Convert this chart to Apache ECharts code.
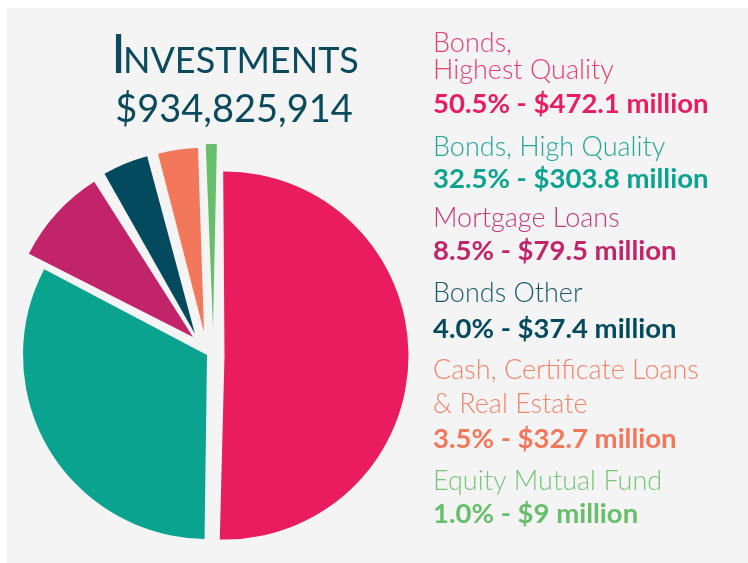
<!DOCTYPE html>
<html>
<head>
<meta charset="utf-8">
<script src="https://cdn.jsdelivr.net/npm/echarts@6/dist/echarts.min.js"></script>
<style>
  html, body { margin: 0; padding: 0; background: #fff; }
  #chart { width: 748px; height: 563px; }
</style>
</head>
<body>
<div id="chart"></div>
<script>
// data
const categories = ['Bonds, Highest Quality', 'Bonds, High Quality', 'Mortgage Loans', 'Bonds Other', 'Cash, Certificate Loans & Real Estate', 'Equity Mutual Fund'];
const nameLines = ['Bonds,\nHighest Quality', 'Bonds, High Quality', 'Mortgage Loans', 'Bonds Other', 'Cash, Certificate Loans\n& Real Estate', 'Equity Mutual Fund'];
const amounts = [472.1, 303.8, 79.5, 37.4, 32.7, 9];   // $ million
const amountText = ['$472.1', '$303.8', '$79.5', '$37.4', '$32.7', '$9'];
const shares = ['50.5%', '32.5%', '8.5%', '4.0%', '3.5%', '1.0%'];
const total = '$934,825,914';

const colors = ['#e81c5e', '#0aa390', '#c2246a', '#034a5e', '#f3775a', '#67be6b'];
const nameColors = ['#ea3b70', '#22a896', '#c43b78', '#1b5a6c', '#f48469', '#78c57b'];

// each slice is its own pie so it can sit on its own center and tilt
// (the picture has them pulled apart by hand)
const sliceCenters = [[224.5, 355.5], [207, 355], [193, 337], [195, 334], [204, 332], [213, 328]];
const sliceTilt = [-0.4, -1.1, -2, 1, 1.6, 1.2];   // degrees, clockwise
const R = 184;

const series = sliceCenters.map(function (c, k) {
  return {
    type: 'pie',
    center: c,
    radius: [0, R],
    startAngle: 90 - sliceTilt[k],
    clockwise: true,
    silent: true,
    label: { show: false },
    labelLine: { show: false },
    emphasis: { disabled: true },
    itemStyle: { borderWidth: 0, borderRadius: 0 },
    data: categories.map(function (name, i) {
      return {
        name: name,
        value: amounts[i],
        itemStyle: i === k ? { color: colors[i] } : { color: 'rgba(0,0,0,0)', opacity: 0 }
      };
    })
  };
});

// right-hand legend positions (baselines)
const nameBase = [[52, 79], [156], [227], [302], [379, 413], [490]];
const valueBase = [113, 188, 260, 338, 448, 523];
const LX = 433;

const graphics = [
  { type: 'rect', left: 7, top: 8, shape: { width: 741, height: 555 }, style: { fill: '#f4f4f4' }, z: -10 },
  { type: 'text', x: 111, y: 73 - 0.3225 * 54, style: { text: 'I', font: '400 54px Lato', fill: '#0b4a5d', verticalAlign: 'middle', align: 'left' } },
  { type: 'text', x: 123, y: 73 - 0.3225 * 36, style: { text: 'NVESTMENTS', font: '400 36px Lato', fill: '#0b4a5d', verticalAlign: 'middle', align: 'left' } },
  { type: 'text', x: 234, y: 122 - 0.3225 * 38, style: { text: total, font: '400 38px Lato', fill: '#0b4a5d', verticalAlign: 'middle', align: 'center' } }
];

nameLines.forEach(function (txt, i) {
  txt.split('\n').forEach(function (line, j) {
    graphics.push({
      type: 'text', x: LX, y: nameBase[i][j] - 0.3225 * 27,
      style: { text: line, font: '300 27px Lato', fill: nameColors[i], verticalAlign: 'middle', align: 'left' }
    });
  });
  graphics.push({
    type: 'text', x: LX, y: valueBase[i] - 0.3225 * 27.5,
    style: { text: shares[i] + ' - ' + amountText[i] + ' million', font: '700 27.5px Lato', fill: colors[i], verticalAlign: 'middle', align: 'left' }
  });
});

const chart = echarts.init(document.getElementById('chart'));
chart.setOption({
  animation: false,
  backgroundColor: '#ffffff',
  graphic: graphics,
  series: series
});
</script>
</body>
</html>
